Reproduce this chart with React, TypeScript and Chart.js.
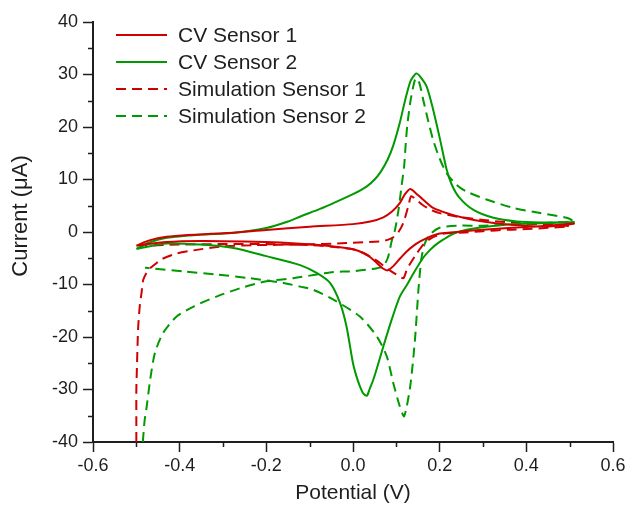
import React, { useEffect, useRef } from 'react';
import { Chart, registerables } from 'chart.js';

Chart.register(...registerables);

const FONT = '"Liberation Sans", Arial, sans-serif';
const RED = '#d00000';
const GREEN = '#009a00';
const TEXT = '#1e1e1e';

// ---- data (Potential in V, Current in µA) ----
const cv1Potential = [
  -0.5, -0.47, -0.43, -0.38, -0.3, -0.2, -0.1, 0.0, 0.04, 0.07, 0.09, 0.108, 0.12, 0.132, 0.145, 0.16, 0.185, 0.224, 0.26, 0.3, 0.35, 0.416, 0.46, 0.51,
  0.45, 0.408, 0.35, 0.3, 0.25, 0.2, 0.175, 0.155, 0.14, 0.124, 0.108, 0.093, 0.08, 0.07, 0.055, 0.04, 0.024, 0.0, -0.03, -0.092, -0.168, -0.25, -0.35, -0.43, -0.5,
];
const cv1Current = [
  -2.6, -1.6, -0.9, -0.55, -0.25, 0.4, 1.0, 1.5, 2.0, 2.8, 3.9, 5.5, 7.2, 8.2, 7.4, 6.3, 4.6, 3.4, 2.6, 2.0, 1.5, 1.1, 1.1, 1.6,
  1.2, 1.0, 0.7, 0.44, 0.1, -0.3, -1.0, -1.8, -2.6, -3.7, -5.1, -6.5, -7.3, -7.0, -5.9, -4.8, -4.0, -3.3, -2.9, -2.4, -2.0, -1.8, -1.7, -1.9, -2.6,
];

const cv2Potential = [
  -0.5, -0.47, -0.43, -0.35, -0.28, -0.2, -0.15, -0.12, -0.076, -0.045, 0.0, 0.032, 0.05, 0.065, 0.08, 0.093, 0.108, 0.12, 0.133, 0.146, 0.155, 0.17, 0.185, 0.201, 0.216, 0.228, 0.245, 0.278, 0.324, 0.378, 0.432, 0.51,
  0.45, 0.41, 0.339, 0.262, 0.23, 0.208, 0.19, 0.178, 0.162, 0.14, 0.125, 0.108, 0.09, 0.07, 0.055, 0.047, 0.038, 0.032, 0.024, 0.016, 0.008, 0.0, -0.015, -0.03, -0.053, -0.084, -0.122, -0.2, -0.276, -0.353, -0.43, -0.5,
];
const cv2Current = [
  -3.2, -2.0, -1.1, -0.5, -0.2, 0.76, 2.0, 3.0, 4.4, 5.5, 7.2, 8.7, 10.0, 11.6, 13.8, 16.5, 20.8, 25.0, 28.8, 30.2, 29.6, 27.7, 23.3, 17.6, 11.9, 9.0, 6.6, 4.2, 2.7, 2.0, 1.83, 1.9,
  1.7, 1.6, 1.3, 0.45, -0.4, -1.47, -2.5, -3.4, -4.9, -7.8, -10.0, -12.3, -16.5, -21.8, -26.0, -28.1, -30.0, -31.2, -30.8, -29.4, -27.5, -25.0, -18.0, -13.5, -9.7, -7.8, -6.3, -4.6, -3.05, -2.4, -2.2, -3.2,
];

const sim1Potential = [
  -0.5, -0.5, -0.5, -0.499, -0.496, -0.492, -0.488, -0.484, -0.472, -0.453, -0.445, -0.407, -0.368, -0.307, -0.23, -0.115, -0.015, 0.062, 0.08, 0.093, 0.105, 0.116, 0.128, 0.134, 0.145, 0.16, 0.18, 0.2, 0.25, 0.3, 0.35, 0.4, 0.45, 0.5,
  0.45, 0.4, 0.36, 0.3, 0.26, 0.21, 0.18, 0.162, 0.143, 0.13, 0.124, 0.116, 0.1, 0.085, 0.07, 0.05, 0.024, 0.0, -0.05, -0.1, -0.2, -0.3, -0.4, -0.48,
];
const sim1Current = [
  -40, -35.7, -30, -26.9, -18.6, -14.0, -11.6, -9.1, -7.2, -5.9, -5.3, -4.1, -3.5, -2.8, -2.5, -2.4, -2.1, -1.8, -1.5, -1.0, 0.0, 1.7, 5.0, 6.8, 6.2, 5.2, 4.2, 3.6, 2.8, 2.3, 1.9, 1.6, 1.4, 1.1,
  0.8, 0.55, 0.45, 0.15, -0.1, -0.3, -1.2, -2.4, -4.6, -6.3, -7.2, -8.8, -8.1, -7.3, -6.4, -5.2, -4.0, -3.3, -2.8, -2.5, -2.3, -2.3, -2.4, -2.6,
];

const sim2Potential = [
  -0.485, -0.481, -0.476, -0.468, -0.457, -0.438, -0.407, -0.368, -0.315, -0.26, -0.2, -0.138, -0.084, -0.045, -0.007, 0.03, 0.055, 0.07, 0.08, 0.085, 0.089, 0.097, 0.105, 0.112, 0.118, 0.121, 0.125, 0.132, 0.139, 0.145, 0.153, 0.162, 0.174, 0.185, 0.2, 0.216, 0.239, 0.262, 0.308, 0.37, 0.432, 0.493, 0.508,
  0.46, 0.4, 0.3, 0.24, 0.2, 0.18, 0.166, 0.158, 0.151, 0.143, 0.132, 0.118, 0.108, 0.093, 0.078, 0.055, 0.016, -0.045, -0.092, -0.122, -0.161, -0.238, -0.315, -0.39, -0.47, -0.48,
];
const sim2Current = [
  -40, -36.0, -33.2, -28.1, -23.0, -19.2, -16.1, -14.2, -12.3, -10.7, -9.4, -8.8, -8.1, -7.6, -7.5, -7.2, -6.9, -6.5, -5.0, -3.4, -1.8, 0.44, 4.2, 8.7, 12.5, 16.0, 20.1, 24.6, 27.7, 29.3, 28.4, 25.2, 21.0, 17.5, 14.0, 11.2, 9.0, 7.7, 6.2, 4.6, 3.6, 2.7, 2.0,
  1.8, 1.5, 1.2, 1.2, 0.8, -0.3, -2.1, -5.0, -11.0, -20.5, -29.4, -35.1, -33.2, -28.8, -23.7, -19.9, -16.1, -12.9, -11.0, -10.4, -9.7, -8.8, -8.1, -7.5, -6.9, -6.8,
];

const seriesLabels = ['CV Sensor 1', 'CV Sensor 2', 'Simulation Sensor 1', 'Simulation Sensor 2'];
const xMinorTicks = [-0.5, -0.3, -0.1, 0.1, 0.3, 0.5];
const yMinorTicks = [-35, -25, -15, -5, 5, 15, 25, 35];
const xTitle = 'Potential (V)';
const yTitle = 'Current (\u03BCA)';

const toPoints = (xs: number[], ys: number[]) => xs.map((x, i) => ({ x, y: ys[i] }));

const decorPlugin = {
  id: 'decor',
  afterDraw(chart: any) {
    const { ctx, chartArea, scales } = chart;
    const xs = scales.x;
    const ys = scales.y;
    ctx.save();
    // minor ticks
    ctx.strokeStyle = TEXT;
    ctx.lineWidth = 1.5;
    ctx.setLineDash([]);
    ctx.beginPath();
    for (const v of xMinorTicks) {
      const px = Math.round(xs.getPixelForValue(v)) + 0.5;
      ctx.moveTo(px, chartArea.bottom);
      ctx.lineTo(px, chartArea.bottom + 5);
    }
    for (const v of yMinorTicks) {
      const py = Math.round(ys.getPixelForValue(v)) + 0.5;
      ctx.moveTo(chartArea.left, py);
      ctx.lineTo(chartArea.left - 5, py);
    }
    ctx.stroke();

    // legend
    const rowY = [35, 62, 89, 116];
    chart.data.datasets.forEach((ds: any, i: number) => {
      const y = rowY[i];
      ctx.beginPath();
      ctx.strokeStyle = ds.borderColor;
      ctx.lineWidth = ds.borderWidth;
      ctx.setLineDash(ds.borderDash || []);
      ctx.moveTo(116, y);
      ctx.lineTo(167, y);
      ctx.stroke();
      ctx.setLineDash([]);
      ctx.fillStyle = TEXT;
      ctx.font = `21px ${FONT}`;
      ctx.textAlign = 'left';
      ctx.textBaseline = 'middle';
      ctx.fillText(ds.label, 178, y + 1);
    });

    // y title
    ctx.translate(21, 216);
    ctx.rotate(-Math.PI / 2);
    ctx.fillStyle = TEXT;
    ctx.font = `22px ${FONT}`;
    ctx.textAlign = 'center';
    ctx.textBaseline = 'middle';
    ctx.fillText(yTitle, 0, 0);
    ctx.restore();
  },
};

export default function App() {
  const ref = useRef<HTMLCanvasElement | null>(null);

  useEffect(() => {
    if (!ref.current) return;
    const common = { showLine: true, pointRadius: 0, borderWidth: 2, tension: 0.25, fill: false };
    const chart = new Chart(ref.current, {
      type: 'scatter',
      data: {
        datasets: [
          { ...common, label: seriesLabels[0], data: toPoints(cv1Potential, cv1Current), borderColor: RED, backgroundColor: RED },
          { ...common, label: seriesLabels[1], data: toPoints(cv2Potential, cv2Current), borderColor: GREEN, backgroundColor: GREEN },
          { ...common, label: seriesLabels[2], data: toPoints(sim1Potential, sim1Current), borderColor: RED, backgroundColor: RED, borderDash: [10, 6] },
          { ...common, label: seriesLabels[3], data: toPoints(sim2Potential, sim2Current), borderColor: GREEN, backgroundColor: GREEN, borderDash: [10, 6] },
        ],
      },
      options: {
        animation: false,
        responsive: true,
        maintainAspectRatio: false,
        layout: { padding: { top: 22, right: 12, left: 0, bottom: 0 } },
        plugins: { legend: { display: false }, tooltip: { enabled: false } },
        scales: {
          x: {
            type: 'linear',
            min: -0.6,
            max: 0.6,
            afterFit: (s: any) => { s.height = 64; s.paddingLeft = 0; s.paddingRight = 0; },
            ticks: {
              stepSize: 0.2,
              color: TEXT,
              padding: 3,
              font: { family: FONT, size: 18 },
              maxRotation: 0,
              callback: (v: any) => (Math.abs(Number(v)) < 1e-9 ? '0.0' : Number(v).toFixed(1)),
            },
            grid: { drawOnChartArea: false, drawTicks: true, tickLength: 10, tickColor: TEXT, tickWidth: 1.5 },
            border: { display: true, color: TEXT, width: 2 },
            title: { display: true, text: xTitle, color: TEXT, font: { family: FONT, size: 21 }, padding: { top: 2, bottom: 0 } },
          },
          y: {
            type: 'linear',
            min: -40,
            max: 40,
            afterFit: (s: any) => { s.width = 93; },
            ticks: { stepSize: 10, color: TEXT, padding: 5, font: { family: FONT, size: 18 } },
            grid: { drawOnChartArea: false, drawTicks: true, tickLength: 10, tickColor: TEXT, tickWidth: 1.5 },
            border: { display: true, color: TEXT, width: 2 },
            title: { display: false },
          },
        },
      },
      plugins: [decorPlugin],
    } as any);
    return () => chart.destroy();
  }, []);

  return (
    <div style={{ position: 'absolute', left: 0, top: 0, width: 625, height: 506 }}>
      <canvas ref={ref} />
    </div>
  );
}
